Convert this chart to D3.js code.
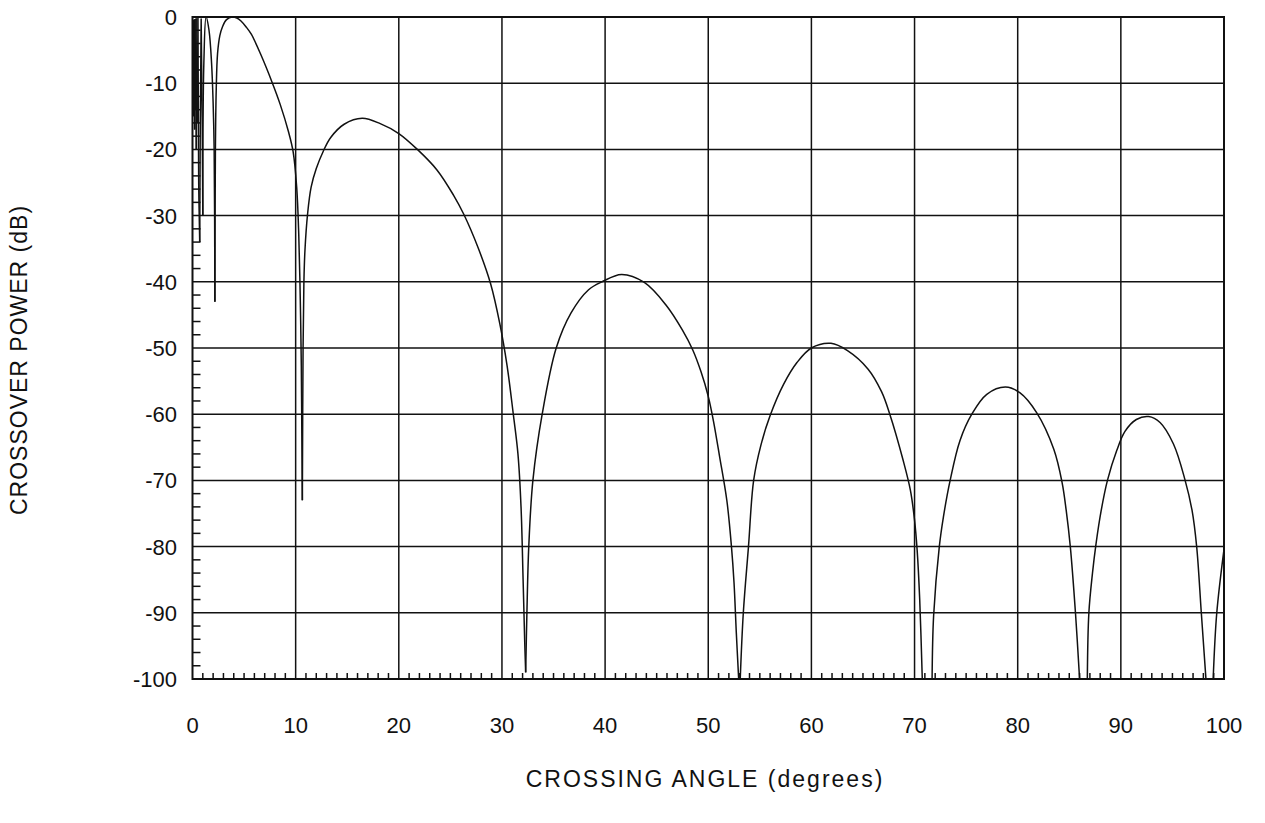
<!DOCTYPE html>
<html>
<head>
<meta charset="utf-8">
<script src="https://cdn.jsdelivr.net/npm/d3@7"></script>
<style>
  body { margin: 0; background: #fff; }
  svg text { font-family: "Liberation Sans", Arial, Helvetica, sans-serif; fill: #111; }
</style>
</head>
<body>
<div id="chart"></div>
<script>
// Crossover power vs crossing angle
const angleDeg = [
  0, 0.03, 0.06, 0.09, 0.12, 0.15, 0.18, 0.21, 0.25, 0.29, 0.33, 0.37, 0.42, 0.47, 0.53, 0.6, 0.7, 0.84,
  1.0, 1.1, 1.32, 1.6, 1.85, 2.0, 2.1, 2.17,
  2.22, 2.3, 2.43, 2.65, 2.9, 3.3, 3.85, 4.3, 4.7, 5.2, 5.7, 6.6, 7.75, 8.5, 9.3, 9.75,
  10.1, 10.3, 10.45, 10.55, 10.6, 10.65,
  10.72, 10.8, 10.9, 11.16, 11.5, 12.0, 12.7, 13.4, 14.7, 16.45, 18.2, 20, 21.8, 23.7,
  25.3, 26.3, 27.7, 28.9, 29.8, 30.5, 31.1, 31.55, 31.85, 32.05, 32.2, 32.3,
  32.42, 32.6, 33.0, 33.9, 35.26, 36.7, 38.4, 39.7, 41.6, 43.8, 45.9, 47.5, 48.5, 49.3,
  50.0, 50.5, 51.1, 51.8, 52.25, 52.5, 52.72, 52.95,
  53.1, 53.4, 53.9, 54.4, 55.1, 56.0, 57.3, 58.6, 60, 61.9, 63.5, 65.5, 66.8, 67.6, 68.9,
  69.6, 70.0, 70.25, 70.5, 70.75,
  71.7, 71.85, 72.4, 72.8, 73.45, 74.4, 75.55, 77.0, 78.8, 80.2, 81.85, 83.5, 84.3,
  84.7, 85.1, 85.6, 86.0,
  86.75, 86.9, 87.25, 87.6, 88.1, 88.7, 89.6, 90.4, 91.5, 92.7, 93.8, 95.1, 96.2, 96.9,
  97.35, 97.8, 98.25,
  98.95, 99.3, 100
];
const powerDb = [
  -1, -12, -0.5, -15, -0.5, -11, -0.4, -17, -0.3, -14, -0.3, -20, -0.2, -16, -0.2, -25, -34, -0.3,
  -30, -7, 0, -2, -7, -13, -20, -43,
  -20, -11, -5.5, -2.8, -1.5, -0.4, 0, -0.15, -0.6, -1.5, -2.6, -5.6, -10, -13.2, -17.3, -20.3,
  -25.7, -32.8, -42.8, -52.8, -62.9, -73,
  -50, -40, -35.3, -29.7, -25.7, -22.9, -20.2, -18.2, -16.2, -15.3, -16.1, -17.6, -20, -23.1,
  -26.9, -29.8, -34.9, -40.3, -46.4, -52.7, -60, -66, -74, -85, -94, -99,
  -90, -80, -70, -60, -50, -44.7, -41.2, -40, -38.9, -40.1, -43.5, -47.3, -50.3, -53.6,
  -57.3, -61, -66.4, -73, -80, -85.5, -93, -100,
  -100, -90, -80, -70, -64.7, -60.2, -55.5, -52.2, -50, -49.3, -50.4, -53.2, -56.6, -60, -67,
  -71.5, -76, -80.5, -88, -100,
  -100, -90.4, -80, -75.5, -70, -64, -60, -57, -55.9, -56.75, -59.8, -65.3, -70.3,
  -74.5, -80, -90, -100,
  -100, -90, -84, -79.5, -74.5, -70, -65.5, -62.6, -60.8, -60.35, -61.25, -64.5, -69.8, -74.5,
  -80, -90, -100,
  -100, -90, -80.4
];
const xTickValues = [0, 10, 20, 30, 40, 50, 60, 70, 80, 90, 100];
const yTickValues = [0, -10, -20, -30, -40, -50, -60, -70, -80, -90, -100];

const xTitle = 'CROSSING ANGLE (degrees)';
const yTitle = 'CROSSOVER POWER (dB)';

const width = 1265;
const height = 823;
const plot = { left: 192.5, right: 1224, top: 17, bottom: 679 };
const ink = '#111';

const svg = d3.select('#chart')
  .append('svg')
  .attr('width', width)
  .attr('height', height)
  .attr('viewBox', `0 0 ${width} ${height}`);

const x = d3.scaleLinear().domain([0, 100]).range([plot.left, plot.right]);
const y = d3.scaleLinear().domain([-100, 0]).range([plot.bottom, plot.top]);

// clip for the curve, nulls run down to the -100 floor
svg.append('defs').append('clipPath')
  .attr('id', 'plot-clip')
  .append('rect')
  .attr('x', plot.left)
  .attr('y', plot.top)
  .attr('width', plot.right - plot.left)
  .attr('height', plot.bottom - plot.top);

// grid
const grid = svg.append('g').attr('class', 'grid')
  .attr('stroke', ink).attr('stroke-width', 1.5);

grid.selectAll('line.vx')
  .data(xTickValues.slice(1, -1))
  .join('line')
  .attr('class', 'vx')
  .attr('x1', d => x(d)).attr('x2', d => x(d))
  .attr('y1', plot.top).attr('y2', plot.bottom);

grid.selectAll('line.hy')
  .data(yTickValues.slice(1, -1))
  .join('line')
  .attr('class', 'hy')
  .attr('x1', plot.left).attr('x2', plot.right)
  .attr('y1', d => y(d)).attr('y2', d => y(d));

// minor ticks, inside the frame on bottom and left
const minorX = d3.range(1, 100).filter(v => v % 10 !== 0);
const minorY = d3.range(-98, 0, 2).filter(v => v % 10 !== 0);

grid.selectAll('line.mx')
  .data(minorX)
  .join('line')
  .attr('class', 'mx')
  .attr('x1', d => x(d)).attr('x2', d => x(d))
  .attr('y1', plot.bottom).attr('y2', plot.bottom - 6);

grid.selectAll('line.my')
  .data(minorY)
  .join('line')
  .attr('class', 'my')
  .attr('x1', plot.left).attr('x2', plot.left + 8)
  .attr('y1', d => y(d)).attr('y2', d => y(d));

// frame
svg.append('rect')
  .attr('x', plot.left).attr('y', plot.top)
  .attr('width', plot.right - plot.left)
  .attr('height', plot.bottom - plot.top)
  .attr('fill', 'none')
  .attr('stroke', ink)
  .attr('stroke-width', 2);

// curve: split at each null so the cusps stay sharp
const points = angleDeg.map((a, i) => [a, powerDb[i]]);
const segments = [];
let current = [points[0]];
for (let i = 1; i < points.length; i++) {
  current.push(points[i]);
  const isNull = i < points.length - 1 &&
    powerDb[i] <= powerDb[i - 1] && powerDb[i] <= powerDb[i + 1];
  if (isNull) {
    segments.push(current);
    current = [points[i]];
  }
}
segments.push(current);

const line = d3.line()
  .x(d => x(d[0]))
  .y(d => y(d[1]))
  .curve(d3.curveCatmullRom.alpha(0.5));

svg.append('g')
  .attr('clip-path', 'url(#plot-clip)')
  .selectAll('path')
  .data(segments)
  .join('path')
  .attr('d', line)
  .attr('fill', 'none')
  .attr('stroke', ink)
  .attr('stroke-width', 1.5)
  .attr('stroke-linejoin', 'round');

// tick labels
svg.append('g')
  .selectAll('text')
  .data(yTickValues)
  .join('text')
  .attr('x', 177)
  .attr('y', d => y(d))
  .attr('dy', '0.36em')
  .attr('text-anchor', 'end')
  .attr('font-size', 22)
  .text(d => String(d));

svg.append('g')
  .selectAll('text')
  .data(xTickValues)
  .join('text')
  .attr('x', d => x(d))
  .attr('y', 733)
  .attr('text-anchor', 'middle')
  .attr('font-size', 22)
  .text(d => d);

// axis titles
svg.append('text')
  .attr('x', 705)
  .attr('y', 787)
  .attr('text-anchor', 'middle')
  .attr('font-size', 23)
  .attr('letter-spacing', 2)
  .text(xTitle);

svg.append('text')
  .attr('transform', `translate(27, 360) rotate(-90)`)
  .attr('text-anchor', 'middle')
  .attr('font-size', 23)
  .attr('letter-spacing', 1)
  .text(yTitle);
</script>
</body>
</html>
